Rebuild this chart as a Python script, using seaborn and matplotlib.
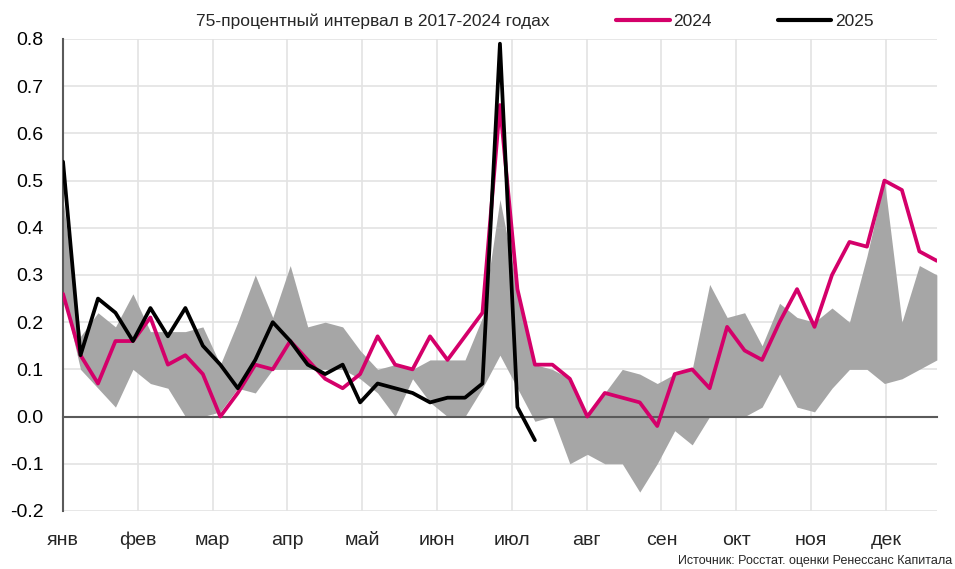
"""
Недельная инфляция: 2024, 2025 и 75-процентный интервал 2017-2024.
"""

import matplotlib

matplotlib.use("Agg")

import matplotlib.pyplot as plt
import numpy as np
import pandas as pd
import seaborn as sns
from matplotlib import font_manager
from matplotlib.lines import Line2D
from matplotlib.patches import Patch


MONTHS = ["янв", "фев", "мар", "апр", "май", "июн", "июл", "авг", "сен", "окт", "ноя", "дек"]
WEEKS_PER_MONTH = 4.28

BAND_UPPER = [
    0.46, 0.17, 0.22, 0.19, 0.26, 0.18, 0.18, 0.18, 0.19, 0.11,
    0.20, 0.30, 0.21, 0.32, 0.19, 0.20, 0.19, 0.14, 0.10, 0.11,
    0.10, 0.12, 0.12, 0.12, 0.21, 0.46, 0.27, 0.11, 0.10, 0.08,
    0.00, 0.05, 0.10, 0.09, 0.07, 0.09, 0.10, 0.28, 0.21, 0.22,
    0.15, 0.24, 0.21, 0.20, 0.23, 0.20, 0.34, 0.50, 0.20, 0.32,
    0.30,
]
BAND_LOWER = [
    0.26, 0.10, 0.06, 0.02, 0.10, 0.07, 0.06, 0.00, 0.00, 0.01,
    0.06, 0.05, 0.10, 0.10, 0.10, 0.10, 0.10, 0.08, 0.05, 0.00,
    0.08, 0.03, 0.00, 0.00, 0.06, 0.13, 0.06, -0.01, 0.00, -0.10,
    -0.08, -0.10, -0.10, -0.16, -0.10, -0.03, -0.06, 0.00, 0.00, 0.00,
    0.02, 0.09, 0.02, 0.01, 0.06, 0.10, 0.10, 0.07, 0.08, 0.10,
    0.12,
]
INFL_2024 = [
    0.26, 0.13, 0.07, 0.16, 0.16, 0.21, 0.11, 0.13, 0.09, 0.00,
    0.05, 0.11, 0.10, 0.16, 0.12, 0.08, 0.06, 0.09, 0.17, 0.11,
    0.10, 0.17, 0.12, 0.17, 0.22, 0.66, 0.27, 0.11, 0.11, 0.08,
    0.00, 0.05, 0.04, 0.03, -0.02, 0.09, 0.10, 0.06, 0.19, 0.14,
    0.12, 0.20, 0.27, 0.19, 0.30, 0.37, 0.36, 0.50, 0.48, 0.35,
    0.33,
]
INFL_2025 = [
    0.54, 0.13, 0.25, 0.22, 0.16, 0.23, 0.17, 0.23, 0.15, 0.11,
    0.06, 0.12, 0.20, 0.16, 0.11, 0.09, 0.11, 0.03, 0.07, 0.06,
    0.05, 0.03, 0.04, 0.04, 0.07, 0.79, 0.02, -0.05,
]

PINK = "#D4006A"
GREY_BAND = "#A6A6A6"
GRID = "#E3E3E3"
AXIS = "#5A5A5A"

sns.set_style("white")
available = {f.name for f in font_manager.fontManager.ttflist}
NARROW = "Liberation Sans Narrow" in available
plt.rcParams["font.family"] = ["Liberation Sans Narrow" if NARROW else "Liberation Sans", "DejaVu Sans"]
FS = 15 if NARROW else 14
LEGEND_FS = 14 if NARROW else 12.5

df = pd.concat(
    [
        pd.DataFrame({"week": np.arange(len(INFL_2024)), "value": INFL_2024, "year": "2024"}),
        pd.DataFrame({"week": np.arange(len(INFL_2025)), "value": INFL_2025, "year": "2025"}),
    ]
)

fig = plt.figure(figsize=(9.55, 5.69), dpi=100)
ax = fig.add_axes([0.066, 0.102, 0.915, 0.8295])

ax.fill_between(np.arange(len(BAND_UPPER)), BAND_LOWER, BAND_UPPER,
                color=GREY_BAND, linewidth=0, zorder=1)
sns.lineplot(data=df, x="week", y="value", hue="year",
             palette={"2024": PINK, "2025": "black"}, hue_order=["2024", "2025"],
             linewidth=2.7, legend=False, ax=ax, zorder=3)

yticks = np.round(np.arange(-0.2, 0.81, 0.1), 1)
ax.set_xlim(0, len(INFL_2024) - 1)
ax.set_ylim(-0.2, 0.8)
ax.set_yticks(yticks)
ax.set_yticklabels([f"{v:.1f}" for v in yticks], fontsize=FS)
month_pos = np.arange(len(MONTHS)) * WEEKS_PER_MONTH
ax.set_xticks(month_pos)
ax.grid(True, color=GRID, linewidth=1.2, zorder=0)
ax.set_axisbelow(True)
ax.set_xlabel("")
ax.set_ylabel("")

for side in ["top", "right"]:
    ax.spines[side].set_visible(False)
ax.spines["left"].set_color(AXIS)
ax.spines["left"].set_linewidth(1.5)
ax.spines["bottom"].set_position(("data", 0))
ax.spines["bottom"].set_color(AXIS)
ax.spines["bottom"].set_linewidth(1.5)
ax.spines["bottom"].set_zorder(2)
ax.tick_params(axis="x", direction="in", length=6, width=1.2, color=AXIS, labelbottom=False)
ax.tick_params(axis="y", direction="in", length=6, width=1.2, color=AXIS, pad=14, labelcolor="black")

sec = ax.secondary_xaxis("bottom")
sec.set_xticks(month_pos)
sec.set_xticklabels(MONTHS, fontsize=FS)
sec.tick_params(length=0, pad=15)
sec.spines["bottom"].set_visible(False)

handles = [
    Patch(facecolor="none", edgecolor="none"),
    Line2D([], [], color=PINK, linewidth=3),
    Line2D([], [], color="black", linewidth=3),
]
labels = ["75-процентный интервал в 2017-2024 годах", "2024", "2025"]
fig.legend(handles, labels, loc="center", bbox_to_anchor=(0.530, 0.963), ncol=3,
           frameon=False, fontsize=LEGEND_FS, handlelength=3.1, handletextpad=0.2,
           columnspacing=3.8)

fig.text(0.997, 0.004, "Источник: Росстат. оценки Ренессанс Капитала",
         ha="right", va="bottom", fontsize=FS - 5)

fig.savefig("out.png", dpi=100)
